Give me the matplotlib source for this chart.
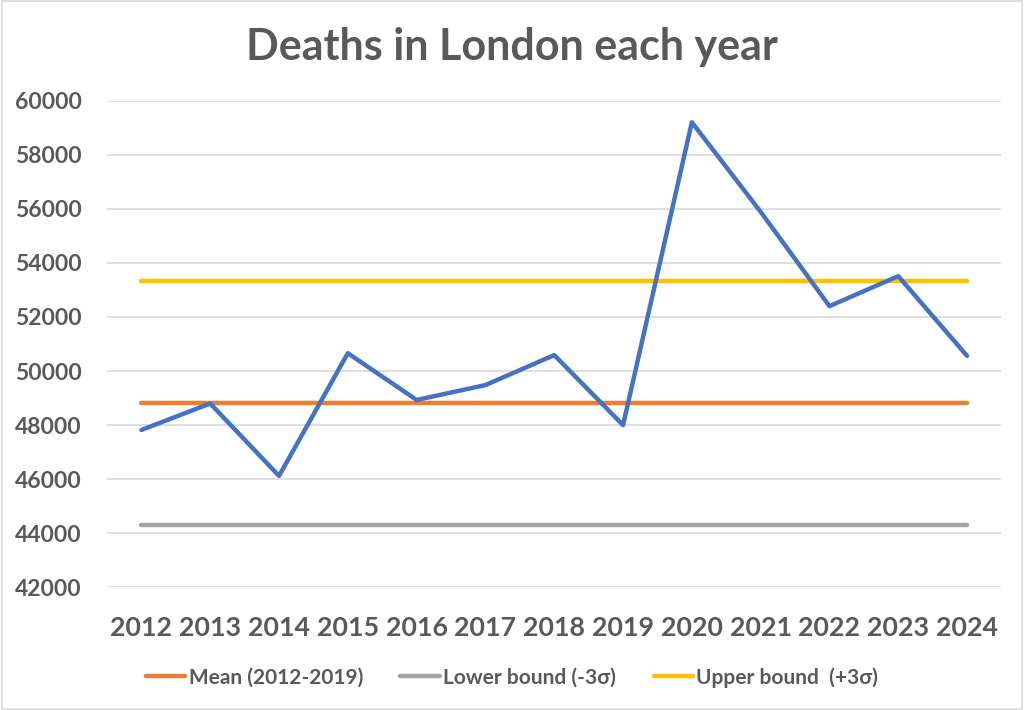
import matplotlib
matplotlib.use("Agg")
import matplotlib.pyplot as plt
from matplotlib.patches import Rectangle

years = ["2012", "2013", "2014", "2015", "2016", "2017", "2018",
         "2019", "2020", "2021", "2022", "2023", "2024"]
deaths = [47820, 48800, 46120, 50660, 48930, 49480, 50590,
          48000, 59200, 55890, 52400, 53510, 50560]
mean_val = 48810
lower_val = 44290
upper_val = 53320
y_ticks = [42000, 44000, 46000, 48000, 50000, 52000, 54000, 56000, 58000, 60000]

plt.rcParams['font.family'] = ['Lato', 'DejaVu Sans']
txt = '#595959'

fig = plt.figure(figsize=(10.24, 7.10), dpi=100)
fig.patches.append(Rectangle((0.002, 0.002), 0.996, 0.996, transform=fig.transFigure,
                             fill=False, edgecolor='#D9D9D9', linewidth=1.2))
ax = fig.add_axes([0.1045, 0.1728, 0.8735, 0.6854])

x = list(range(len(years)))
ax.plot(x, deaths, color='#4472C4', linewidth=3.2, solid_joinstyle='round',
        solid_capstyle='round', zorder=4)
l1, = ax.plot(x, [mean_val] * len(x), color='#ED7D31', linewidth=3.2,
              solid_capstyle='round', label='Mean (2012-2019)', zorder=3)
l2, = ax.plot(x, [lower_val] * len(x), color='#A5A5A5', linewidth=3.2,
              solid_capstyle='round', label='Lower bound (-3σ)', zorder=3)
l3, = ax.plot(x, [upper_val] * len(x), color='#FFC000', linewidth=3.2,
              solid_capstyle='round', label='Upper bound  (+3σ)', zorder=3)

ax.set_xlim(-0.5, len(years) - 0.5)
ax.set_ylim(42000, 60000)
ax.set_yticks(y_ticks)
ax.set_yticklabels([str(v) for v in y_ticks], fontsize=16.5, fontweight='bold', color=txt)
ax.set_xticks(x)
ax.set_xticklabels(years, fontsize=19.3, fontweight='bold', color=txt)
ax.tick_params(axis='both', length=0)
ax.tick_params(axis='y', pad=18)
ax.tick_params(axis='x', pad=21)
ax.grid(axis='y', color='#D9D9D9', linewidth=1.2)
ax.set_axisbelow(True)
for s in ax.spines.values():
    s.set_visible(False)

fig.suptitle('Deaths in London each year', x=0.5, y=0.962, fontsize=31,
             fontweight='bold', color=txt, va='top')

fig.legend(handles=[l1, l2, l3], loc='center', bbox_to_anchor=(0.5, 0.046), ncol=3,
           frameon=False, handlelength=1.9, handletextpad=0.15,
           columnspacing=1.8, labelcolor=txt,
           prop={'family': ['Lato', 'DejaVu Sans'], 'size': 15, 'weight': 'bold'})

fig.savefig('out.png', dpi=100, facecolor='white')
